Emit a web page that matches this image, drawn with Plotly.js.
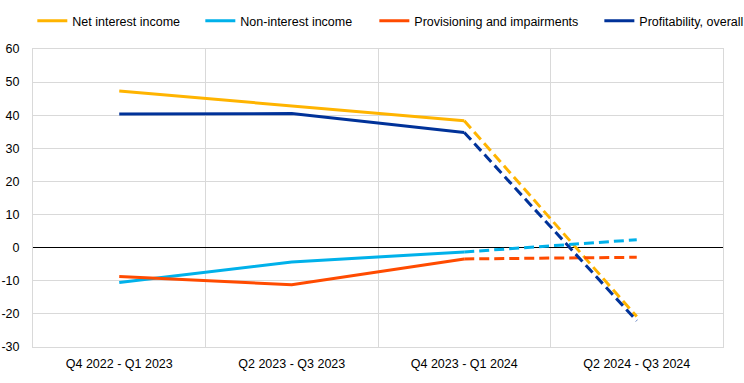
<!DOCTYPE html>
<html>
<head>
<meta charset="utf-8">
<script src="https://cdn.plot.ly/plotly-3.0.1.min.js"></script>
<style>html,body{margin:0;padding:0;background:#fff;}#chart{width:744px;height:383px;}</style>
</head>
<body>
<div id="chart"></div>
<script>
var categories = ["Q4 2022 - Q1 2023", "Q2 2023 - Q3 2023", "Q4 2023 - Q1 2024", "Q2 2024 - Q3 2024"];
var netInterestIncome = [47.3, 42.9, 38.3, -20.8];
var nonInterestIncome = [-10.5, -4.3, -1.3, 2.4];
var provisioning = [-8.7, -11.2, -3.4, -2.9];
var profitability = [40.4, 40.5, 34.8, -22.1];
var seriesNames = ["Net interest income", "Non-interest income", "Provisioning and impairments", "Profitability, overall"];
var yTicks = [-30, -20, -10, 0, 10, 20, 30, 40, 50, 60];

var colors = ["#FFB400", "#00B1EA", "#FF4B00", "#003299"];
var allSeries = [netInterestIncome, nonInterestIncome, provisioning, profitability];
var legendIds = ["legend", "legend2", "legend3", "legend4"];
var legendX = [-0.001, 0.2425, 0.4947, 0.8208];

var traces = [];
allSeries.forEach(function (s, i) {
  traces.push({
    x: categories.slice(2), y: s.slice(2), type: "scatter", mode: "lines",
    line: {color: colors[i], width: 3, dash: "10px,5px"},
    showlegend: false, hoverinfo: "skip"
  });
});
allSeries.forEach(function (s, i) {
  traces.push({
    x: categories.slice(0, 3), y: s.slice(0, 3), type: "scatter", mode: "lines",
    name: seriesNames[i], legend: legendIds[i],
    line: {color: colors[i], width: 3}
  });
});

var layout = {
  width: 744, height: 383,
  margin: {l: 33, r: 21, t: 49, b: 36, autoexpand: false},
  paper_bgcolor: "#fff", plot_bgcolor: "#fff",
  font: {family: "Liberation Sans, Arial, sans-serif", size: 12.5, color: "#000"},
  showlegend: true,
  xaxis: {
    type: "category", categoryorder: "array", categoryarray: categories,
    range: [-0.5, 3.5], tickson: "boundaries",
    showgrid: true, gridcolor: "#d9d9d9", gridwidth: 1,
    showline: true, linecolor: "#d9d9d9", linewidth: 1, mirror: true,
    ticks: "outside", ticklen: 14, tickcolor: "rgba(0,0,0,0)",
    ticklabelstandoff: 5,
    zeroline: false, fixedrange: true, automargin: false
  },
  yaxis: {
    range: [-30, 60], tickvals: yTicks, ticktext: yTicks.map(String),
    showgrid: true, gridcolor: "#d9d9d9", gridwidth: 1,
    showline: true, linecolor: "#d9d9d9", linewidth: 1, mirror: true,
    zeroline: true, zerolinecolor: "#000", zerolinewidth: 1,
    ticks: "outside", ticklen: 10, tickcolor: "rgba(0,0,0,0)",
    fixedrange: true, automargin: false
  }
};
legendIds.forEach(function (id, i) {
  layout[id] = {orientation: "h", x: legendX[i], xanchor: "left",
                y: 1 + 28 / 298, yanchor: "middle", font: {size: 12.5},
                bgcolor: "rgba(0,0,0,0)", borderwidth: 0};
});

Plotly.newPlot("chart", traces, layout, {displayModeBar: false, staticPlot: true});
</script>
</body>
</html>
